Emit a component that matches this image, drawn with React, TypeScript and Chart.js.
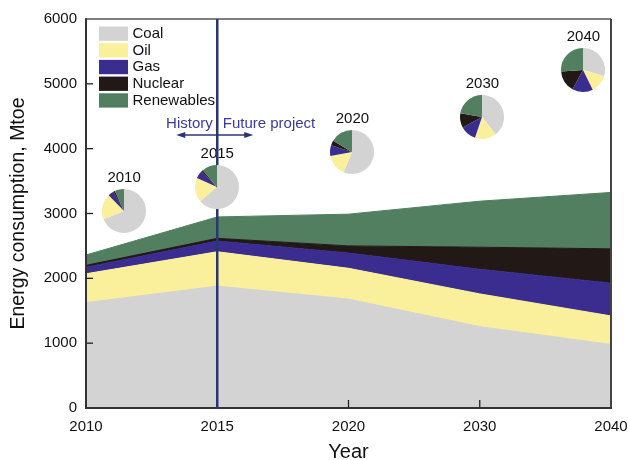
import { useEffect, useRef } from 'react';
import { Chart, registerables } from 'chart.js';

Chart.register(...registerables);

// ---- data (Mtoe) ----
const YEARS = ['2010', '2015', '2020', '2030', '2040'];
const SOURCES = ['Coal', 'Oil', 'Gas', 'Nuclear', 'Renewables'];
const COAL = [1625, 1880, 1680, 1255, 980];
const OIL = [445, 530, 475, 505, 440];
const GAS = [100, 165, 235, 380, 505];
const NUCLEAR = [30, 42, 110, 340, 530];
const RENEWABLES = [160, 330, 490, 710, 870];
const Y_TICKS = [0, 1000, 2000, 3000, 4000, 5000, 6000];

const SERIES = [COAL, OIL, GAS, NUCLEAR, RENEWABLES];
const COLORS = ['#d3d3d3', '#faef9b', '#3a2d8f', '#221815', '#517f5f'];

// ---- layout ----
const FONT = "'Liberation Sans', Arial, Helvetica, sans-serif";
const W = 628;
const H = 460;
const PIE_R = 22;
const DIVIDE_COLOR = '#2b3670';
const NOTE_COLOR = '#3b3a9c';
// where each year's share pie is centred, in axis units (category position, Mtoe)
const PIE_SPOTS = [
  { at: 0.29, mtoe: 3046 },
  { at: 1.0, mtoe: 3409 },
  { at: 2.03, mtoe: 3949 },
  { at: 3.02, mtoe: 4489 },
  { at: 3.79, mtoe: 5214 },
];

type Pt = { x: number; y: number };

function seg(ctx: CanvasRenderingContext2D, a: Pt, b: Pt) {
  ctx.beginPath();
  ctx.moveTo(a.x, a.y);
  ctx.lineTo(b.x, b.y);
  ctx.stroke();
}

function arrowHead(ctx: CanvasRenderingContext2D, tip: Pt, dir: number) {
  ctx.beginPath();
  ctx.moveTo(tip.x, tip.y);
  ctx.lineTo(tip.x - dir * 9, tip.y - 3);
  ctx.lineTo(tip.x - dir * 9, tip.y + 3);
  ctx.closePath();
  ctx.fill();
}

const overlay = {
  id: 'overlay',
  afterDraw(chart: any) {
    const { ctx, chartArea: a, scales } = chart;
    const xs = scales.x;
    const ys = scales.y;
    ctx.save();

    // inward tick marks
    ctx.strokeStyle = '#222';
    ctx.lineWidth = 1.3;
    Y_TICKS.forEach((v, i) => {
      if (i === 0 || i === Y_TICKS.length - 1) return;
      const py = ys.getPixelForValue(v);
      seg(ctx, { x: a.left, y: py }, { x: a.left + 7, y: py });
    });
    YEARS.forEach((_, i) => {
      if (i === 0 || i === YEARS.length - 1) return;
      const px = xs.getPixelForValue(i);
      seg(ctx, { x: px, y: a.bottom }, { x: px, y: a.bottom - 8 });
    });

    // frame
    ctx.strokeStyle = '#555';
    ctx.lineWidth = 1.5;
    seg(ctx, { x: a.left, y: a.top }, { x: a.right, y: a.top });
    ctx.strokeStyle = '#444';
    ctx.lineWidth = 2;
    seg(ctx, { x: a.right, y: a.top }, { x: a.right, y: a.bottom });
    ctx.strokeStyle = '#333';
    seg(ctx, { x: a.left, y: a.top - 0.7 }, { x: a.left, y: a.bottom + 1 });
    seg(ctx, { x: a.left - 1, y: a.bottom }, { x: a.right + 1, y: a.bottom });

    // legend
    ctx.font = `15px ${FONT}`;
    ctx.textAlign = 'left';
    ctx.textBaseline = 'middle';
    SOURCES.forEach((name, i) => {
      const top = a.top + 7.5 + i * 16.7;
      ctx.fillStyle = COLORS[i];
      ctx.fillRect(a.left + 13, top, 29, 14.3);
      ctx.fillStyle = '#111';
      ctx.fillText(name, a.left + 46.5, top + 7.4);
    });

    // year labels above the share pies
    ctx.textAlign = 'center';
    PIE_SPOTS.forEach((s, i) => {
      const cx = xs.getPixelForValue(s.at);
      const cy = ys.getPixelForValue(s.mtoe);
      ctx.fillText(YEARS[i], cx, cy - 33);
    });

    // history / projection divider
    const dx = xs.getPixelForValue(1);
    ctx.strokeStyle = DIVIDE_COLOR;
    ctx.lineWidth = 2.5;
    seg(ctx, { x: dx, y: a.top }, { x: dx, y: a.bottom + 1 });

    const ay = a.top + 116;
    ctx.lineWidth = 1.5;
    ctx.fillStyle = DIVIDE_COLOR;
    seg(ctx, { x: dx - 38, y: ay }, { x: dx + 33, y: ay });
    arrowHead(ctx, { x: dx - 41, y: ay }, -1);
    arrowHead(ctx, { x: dx + 36, y: ay }, 1);

    ctx.fillStyle = NOTE_COLOR;
    ctx.textBaseline = 'alphabetic';
    ctx.textAlign = 'right';
    ctx.fillText('History', dx - 4.5, a.top + 108.7);
    ctx.textAlign = 'left';
    ctx.fillText('Future project', dx + 5.5, a.top + 108.7);

    ctx.restore();
  },
};

export default function App() {
  const mainRef = useRef<HTMLCanvasElement>(null);
  const pieRefs = useRef<(HTMLCanvasElement | null)[]>([]);

  useEffect(() => {
    document.body.style.margin = '0';
    const charts: Chart[] = [];

    const main = new Chart(mainRef.current as HTMLCanvasElement, {
      type: 'line',
      data: {
        labels: YEARS,
        datasets: SERIES.map((values, i) => ({
          label: SOURCES[i],
          data: values,
          backgroundColor: COLORS[i],
          borderColor: COLORS[i],
          borderWidth: 1,
          fill: i === 0 ? 'origin' : '-1',
          pointRadius: 0,
          tension: 0,
        })),
      },
      options: {
        animation: false,
        responsive: false,
        events: [],
        layout: { padding: { left: 0, right: 17, top: 19, bottom: 0 } },
        plugins: {
          legend: { display: false },
          tooltip: { enabled: false },
        },
        scales: {
          x: {
            type: 'category',
            offset: false,
            grid: { display: false, drawTicks: false },
            border: { display: false },
            ticks: {
              color: '#111',
              font: { family: FONT, size: 15 },
              padding: 10,
              maxRotation: 0,
              autoSkip: false,
            },
            title: {
              display: true,
              text: 'Year',
              color: '#111',
              font: { family: FONT, size: 20, lineHeight: 1 },
              padding: { top: 0, bottom: -2 },
            },
            afterFit: (s: any) => {
              s.height = 52;
              s.paddingLeft = 0;
              s.paddingRight = 0;
            },
          },
          y: {
            stacked: true,
            min: 0,
            max: 6000,
            grid: { display: false, drawTicks: false },
            border: { display: false },
            ticks: {
              color: '#111',
              font: { family: FONT, size: 15 },
              padding: 9,
              callback: (v: any) => String(v),
            },
            afterBuildTicks: (s: any) => {
              s.ticks = Y_TICKS.map((v) => ({ value: v }));
            },
            title: {
              display: true,
              text: 'Energy consumption, Mtoe',
              color: '#111',
              font: { family: FONT, size: 19.5, lineHeight: 1 },
              padding: { top: 8.5, bottom: 0 },
            },
            afterFit: (s: any) => {
              s.width = 86;
              s.paddingTop = 0;
              s.paddingBottom = 0;
            },
          },
        },
      },
      plugins: [overlay],
    });
    charts.push(main);

    const xs = main.scales.x;
    const ys = main.scales.y;
    PIE_SPOTS.forEach((spot, i) => {
      const cv = pieRefs.current[i];
      if (!cv) return;
      cv.style.left = `${xs.getPixelForValue(spot.at) - PIE_R}px`;
      cv.style.top = `${ys.getPixelForValue(spot.mtoe) - PIE_R}px`;
      charts.push(
        new Chart(cv, {
          type: 'pie',
          data: {
            labels: SOURCES,
            datasets: [
              {
                data: SERIES.map((s) => s[i]),
                backgroundColor: COLORS,
                borderWidth: 0,
              },
            ],
          },
          options: {
            animation: false,
            responsive: false,
            events: [],
            layout: { padding: 0 },
            plugins: {
              legend: { display: false },
              tooltip: { enabled: false },
            },
          },
        })
      );
    });

    return () => charts.forEach((c) => c.destroy());
  }, []);

  return (
    <div style={{ position: 'relative', width: W, height: H, background: '#fff' }}>
      <canvas ref={mainRef} width={W} height={H} style={{ display: 'block' }} />
      {PIE_SPOTS.map((_, i) => (
        <canvas
          key={YEARS[i]}
          ref={(el) => {
            pieRefs.current[i] = el;
          }}
          width={PIE_R * 2}
          height={PIE_R * 2}
          style={{ position: 'absolute', left: 0, top: 0, display: 'block' }}
        />
      ))}
    </div>
  );
}
